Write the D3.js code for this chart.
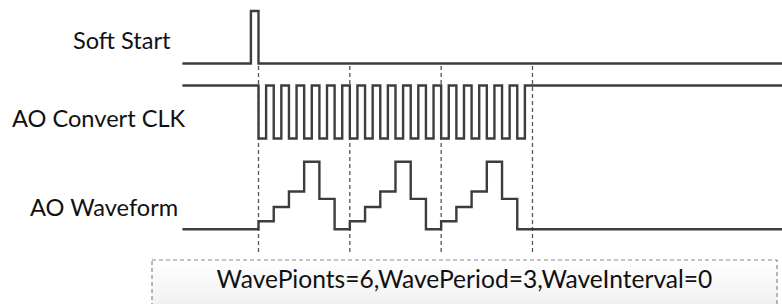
<!DOCTYPE html>
<html>
<head>
<meta charset="utf-8">
<script src="https://cdn.jsdelivr.net/npm/d3@7"></script>
<style>
  body { margin: 0; background: #fff; }
  text { font-family: Lato, "Open Sans", sans-serif; fill: #111; }
</style>
</head>
<body>
<div id="chart"></div>
<script>
// signal names and the parameter line
const signalNames = ["Soft Start", "AO Convert CLK", "AO Waveform"];
const paramText = "WavePionts=6,WavePeriod=3,WaveInterval=0";

// trigger parameters
const wavePoints = 6;
const wavePeriod = 3;
const waveInterval = 0;

// one period of the AO output, relative amplitude (0 = idle level)
const waveValues = [1.2, 3.3, 5.6, 10, 4.5, 0];

// soft start pulse (in clock ticks, trigger at t = 0)
const softStartPulse = [-0.5, 0];
const timeDomain = [-5, 34.4];

const width = 782, height = 304;
const lineColor = "#3d3d3d";

const svg = d3.select("#chart").append("svg")
    .attr("width", width)
    .attr("height", height);

const x = d3.scaleLinear().domain(timeDomain).range([182.4, 782.1]);

const ySoft = d3.scaleLinear().domain([0, 1]).range([63.5, 11]);
const yClk = d3.scaleLinear().domain([0, 1]).range([138.5, 85.5]);
const yWave = d3.scaleLinear().domain([0, 10]).range([229.3, 161.7]);

const line = d3.line().curve(d3.curveStepAfter);

// soft start: low, short high pulse, low
const softPts = [
    [timeDomain[0], 0],
    [softStartPulse[0], 1],
    [softStartPulse[1], 0],
    [timeDomain[1], 0]
];

// convert clock: idle high, one low/high cycle per wave point
const nTicks = wavePoints * wavePeriod;
const clkPts = [[timeDomain[0], 1]];
for (let i = 0; i < nTicks; i++) {
    clkPts.push([i, 0]);
    clkPts.push([i + 0.5, 1]);
}
clkPts.push([timeDomain[1], 1]);

// waveform: idle, then waveValues repeated per period
const wavePts = [[timeDomain[0], 0]];
for (let p = 0; p < wavePeriod; p++) {
    waveValues.forEach((v, i) => wavePts.push([p * (wavePoints + waveInterval) + i, v]));
}
wavePts.push([timeDomain[1], 0]);

// dashed markers at period boundaries
const marks = d3.range(wavePeriod + 1).map(p => p * wavePoints);
svg.selectAll("line.mark")
    .data(marks)
    .enter()
    .append("line")
    .attr("class", "mark")
    .attr("x1", d => x(d)).attr("x2", d => x(d))
    .attr("y1", 66).attr("y2", 253)
    .attr("stroke", "#555")
    .attr("stroke-width", 1.3)
    .attr("stroke-dasharray", "4,3");

const traces = [
    { pts: softPts, y: ySoft },
    { pts: clkPts, y: yClk },
    { pts: wavePts, y: yWave }
];

svg.selectAll("path.trace")
    .data(traces)
    .enter()
    .append("path")
    .attr("class", "trace")
    .attr("d", d => line(d.pts.map(p => [x(p[0]), d.y(p[1])])))
    .attr("fill", "none")
    .attr("stroke", lineColor)
    .attr("stroke-width", 2.4)
    .attr("stroke-linejoin", "miter");

// labels
const labelPos = [[73, 49], [12, 127], [30, 216]];
svg.selectAll("text.label")
    .data(signalNames)
    .enter()
    .append("text")
    .attr("class", "label")
    .attr("x", (d, i) => labelPos[i][0])
    .attr("y", (d, i) => labelPos[i][1])
    .style("font-size", "23.6px")
    .text(d => d);

// parameter box
const grad = svg.append("defs").append("linearGradient")
    .attr("id", "boxFill").attr("x1", 0).attr("y1", 0).attr("x2", 0).attr("y2", 1);
grad.append("stop").attr("offset", "0%").attr("stop-color", "#ffffff");
grad.append("stop").attr("offset", "100%").attr("stop-color", "#ececec");

svg.append("rect")
    .attr("x", 152).attr("y", 260)
    .attr("width", 625).attr("height", 60)
    .attr("fill", "url(#boxFill)")
    .attr("stroke", "#888")
    .attr("stroke-width", 1.2)
    .attr("stroke-dasharray", "4,3");

svg.append("text")
    .attr("x", 464.5).attr("y", 288)
    .attr("text-anchor", "middle")
    .style("font-size", "24.6px")
    .text(paramText);
</script>
</body>
</html>
